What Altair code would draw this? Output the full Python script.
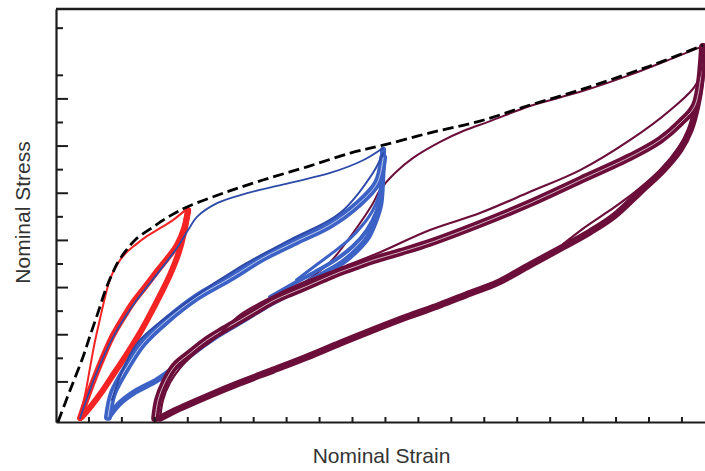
import altair as alt
import pandas as pd

# ---------------- data (strain / stress, arbitrary units) ----------------
# dashed envelope
env_x = [0.06, 0.43, 0.82, 1.03, 1.28, 1.52, 1.70, 1.88, 2.10, 2.40, 2.94, 3.46, 3.98, 5.07, 6.28, 7.62, 8.93, 9.93, 11.35, 12.87, 14.39, 15.91, 17.43, 18.43, 19.64]
env_y = [0.15, 0.83, 1.53, 1.97, 2.48, 2.98, 3.28, 3.54, 3.76, 4.01, 4.28, 4.52, 4.71, 5.00, 5.28, 5.56, 5.85, 6.02, 6.28, 6.53, 6.87, 7.19, 7.55, 7.80, 8.14]

# red specimen
red_load_x = [0.70, 0.88, 1.03, 1.18, 1.34, 1.49, 1.64, 1.85, 2.09, 2.40, 2.76, 3.16, 3.55, 4.01]
red_load_y = [0.23, 0.72, 1.29, 1.85, 2.35, 2.80, 3.18, 3.48, 3.71, 3.90, 4.09, 4.26, 4.43, 4.69]
red_unload_x = [4.01, 3.89, 3.73, 3.46, 3.16, 2.85, 2.55, 2.19, 1.79, 1.43, 1.09, 0.79]
red_unload_y = [4.64, 4.18, 3.75, 3.27, 2.84, 2.42, 2.04, 1.63, 1.21, 0.83, 0.51, 0.26]
red_reload_x = [0.73, 0.94, 1.24, 1.49, 1.73, 2.03, 2.34, 2.70, 3.07, 3.37, 3.67, 3.89, 4.01]
red_reload_y = [0.23, 0.66, 1.21, 1.63, 1.99, 2.35, 2.69, 3.01, 3.35, 3.61, 3.90, 4.26, 4.64]

# blue specimen
blue_load_x = [0.73, 1.24, 1.73, 2.34, 3.07, 3.67, 4.01, 4.28, 4.89, 5.80, 7.10, 8.32, 9.32, 9.93]
blue_load_y = [0.23, 1.21, 1.95, 2.63, 3.29, 3.84, 4.22, 4.50, 4.79, 5.00, 5.22, 5.43, 5.70, 5.96]
blue_reload_x = [1.58, 1.73, 2.16, 2.64, 3.37, 4.28, 5.28, 6.28, 7.32, 8.32, 9.14, 9.75, 9.93]
blue_reload_y = [0.26, 0.76, 1.32, 1.82, 2.31, 2.80, 3.20, 3.63, 3.99, 4.33, 4.75, 5.22, 5.75]
blue_reload2_x = [1.70, 2.09, 2.55, 4.07, 5.59, 7.10, 8.62, 9.62, 9.93]
blue_reload2_y = [0.62, 1.36, 1.89, 2.74, 3.44, 4.01, 4.58, 5.43, 5.85]
blue_unload_x = [9.93, 9.90, 9.84, 9.68, 9.47, 9.14, 8.71, 8.17, 7.62, 7.10, 6.34, 5.59, 4.83, 4.07, 3.67, 3.07, 2.40, 1.94, 1.64]
blue_unload_y = [5.92, 5.28, 4.75, 4.39, 4.07, 3.80, 3.54, 3.31, 3.10, 2.88, 2.59, 2.27, 1.95, 1.57, 1.34, 1.04, 0.79, 0.55, 0.30]
blue_unload2_x = [9.93, 9.87, 9.72, 9.44, 9.02, 8.47, 7.86, 7.26, 6.50]
blue_unload2_y = [5.87, 5.07, 4.60, 4.22, 3.88, 3.58, 3.33, 3.10, 2.80]
blue_unload3_x = [9.93, 9.90, 9.80, 9.60, 9.30, 8.90, 8.40, 7.90, 7.30]
blue_unload3_y = [5.87, 5.30, 4.95, 4.62, 4.32, 4.02, 3.74, 3.48, 3.16]

# maroon specimen
mar_load_x = [7.41, 8.32, 9.08, 9.59, 9.84, 10.29, 10.84, 11.66, 12.36, 13.18, 14.39, 15.91, 17.43, 18.43, 19.64]
mar_load_y = [3.05, 3.54, 4.22, 4.75, 5.07, 5.43, 5.75, 6.09, 6.32, 6.53, 6.85, 7.15, 7.51, 7.78, 8.12]
mar_reload_x = [3.01, 3.10, 3.31, 3.61, 4.07, 4.58, 5.07, 5.59, 6.10, 6.59, 7.10, 7.62, 8.11, 8.62, 9.14, 9.62, 10.44, 11.35, 12.87, 14.39, 15.91, 17.43, 18.34, 18.94, 19.40, 19.64]
mar_reload_y = [0.23, 0.62, 1.00, 1.34, 1.61, 1.89, 2.10, 2.31, 2.52, 2.72, 2.88, 3.03, 3.18, 3.33, 3.46, 3.58, 3.75, 3.95, 4.35, 4.79, 5.28, 5.77, 6.13, 6.49, 6.87, 8.10]
mar_reload2_x = [3.16, 3.25, 3.46, 3.76, 4.22, 4.83, 5.59, 6.50, 7.41, 8.62, 9.84, 11.35, 12.87, 14.39, 15.91, 17.43, 18.64, 19.46, 19.64]
mar_reload2_y = [0.23, 0.62, 0.98, 1.29, 1.61, 1.93, 2.42, 2.78, 3.08, 3.41, 3.75, 4.22, 4.58, 5.03, 5.49, 6.13, 6.76, 7.34, 8.10]
mar_unload_x = [19.64, 19.58, 19.46, 19.25, 18.94, 18.43, 17.73, 16.91, 16.21, 15.39, 14.39, 13.39, 12.57, 11.66, 10.66, 9.62, 8.62, 7.62, 6.59, 5.59, 4.68, 3.86, 3.46, 3.16]
mar_unload_y = [8.10, 7.40, 6.87, 6.34, 5.92, 5.49, 5.03, 4.50, 4.18, 3.86, 3.48, 3.10, 2.88, 2.63, 2.38, 2.10, 1.82, 1.53, 1.25, 0.98, 0.72, 0.47, 0.34, 0.23]
mar_unload2_x = [19.64, 19.46, 19.19, 18.70, 18.03, 17.27, 16.51, 15.76, 15.15]
mar_unload2_y = [8.10, 6.98, 6.34, 5.70, 5.17, 4.75, 4.33, 4.01, 3.80]
mar_unload3_x = [19.64, 19.52, 19.31, 18.94, 18.34, 17.58, 16.82, 16.06, 15.39]
mar_unload3_y = [8.10, 7.08, 6.51, 6.02, 5.49, 5.03, 4.64, 4.28, 3.92]

# axis ticks (unlabelled)
x_ticks = list(range(1, 20))
y_major_ticks = [1, 2, 3, 4, 5, 6, 7]
y_minor_ticks = [1.5, 2.5, 3.5, 4.5, 5.5, 6.5, 7.5, 8.5]

# ---------------- styling ----------------
W, H = 649, 413
X_DOMAIN = [0, 19.70]
Y_DOMAIN = [0.15, 8.906]
RED = "#F42424"
BLUE = "#3C62C6"
BLUE_DARK = "#2E4AA8"
MAROON = "#6B0F3A"
AXIS_COLOR = "#1c1c1c"
FONT = "Liberation Sans"

xscale = alt.Scale(domain=X_DOMAIN, nice=False, zero=False)
yscale = alt.Scale(domain=Y_DOMAIN, nice=False, zero=False)

x_axis = alt.Axis(title="Nominal Strain", ticks=False, labels=False, grid=False,
                  domain=True, domainColor=AXIS_COLOR, domainWidth=2.2,
                  titleFont=FONT, titleFontSize=21, titleFontWeight="normal",
                  titleColor="#333333", titleX=325, titleY=40,
                  titleAlign="center", titleBaseline="alphabetic")
y_axis = alt.Axis(title="Nominal Stress", ticks=False, labels=False, grid=False,
                  domain=True, domainColor=AXIS_COLOR, domainWidth=2.2,
                  titleFont=FONT, titleFontSize=21, titleFontWeight="normal",
                  titleColor="#333333", titleAngle=270, titleX=-27, titleY=203,
                  titleAlign="center", titleBaseline="alphabetic")


def curve(xs, ys, color, width, dash=None, opacity=1.0):
    df = pd.DataFrame({"x": xs, "y": ys, "i": list(range(len(xs)))})
    props = dict(color=color, strokeWidth=width, strokeJoin="round",
                 strokeCap="round", clip=True, interpolate="catmull-rom",
                 opacity=opacity)
    if dash is not None:
        props["strokeDash"] = dash
        props["strokeCap"] = "butt"
    return alt.Chart(df).mark_line(**props).encode(
        x=alt.X("x:Q", scale=xscale, axis=x_axis),
        y=alt.Y("y:Q", scale=yscale, axis=y_axis),
        order=alt.Order("i:Q"),
    )


layers = [
    # red
    curve(red_unload_x, red_unload_y, RED, 6),
    curve(red_reload_x, red_reload_y, RED, 6),
    curve(red_load_x, red_load_y, RED, 2),
    # maroon first loading (runs under the blue loops)
    curve(mar_load_x, mar_load_y, MAROON, 2),
    # blue
    curve(blue_unload3_x, blue_unload3_y, BLUE, 3),
    curve(blue_unload2_x, blue_unload2_y, BLUE, 4),
    curve(blue_unload_x, blue_unload_y, BLUE, 6),
    curve(blue_reload_x, blue_reload_y, BLUE, 8),
    curve(blue_reload_x, blue_reload_y, "#dfe6f7", 1, opacity=0.8),
    curve(blue_reload2_x, blue_reload2_y, BLUE_DARK, 2),
    curve(blue_load_x, blue_load_y, BLUE_DARK, 1.8),
    # maroon
    curve(mar_unload_x, mar_unload_y, MAROON, 7),
    curve(mar_unload2_x, mar_unload2_y, MAROON, 2.2),
    curve(mar_unload3_x, mar_unload3_y, MAROON, 2.2),
    curve(mar_reload_x, mar_reload_y, MAROON, 8),
    curve(mar_reload_x, mar_reload_y, "#f1dde5", 1, opacity=0.8),
    curve(mar_reload2_x, mar_reload2_y, MAROON, 2.2),
    # envelope
    curve(env_x, env_y, "#000000", 2.8, dash=[11, 5]),
]

# inward ticks
yt_major = alt.Chart(pd.DataFrame({"v": y_major_ticks})).mark_rule(
    color=AXIS_COLOR, strokeWidth=2).encode(
    y=alt.Y("v:Q", scale=yscale, axis=y_axis), x=alt.value(0), x2=alt.value(12))
yt_minor = alt.Chart(pd.DataFrame({"v": y_minor_ticks})).mark_rule(
    color=AXIS_COLOR, strokeWidth=2).encode(
    y=alt.Y("v:Q", scale=yscale, axis=y_axis), x=alt.value(0), x2=alt.value(7))
xt = alt.Chart(pd.DataFrame({"v": x_ticks})).mark_rule(
    color=AXIS_COLOR, strokeWidth=2).encode(
    x=alt.X("v:Q", scale=xscale, axis=x_axis), y=alt.value(H), y2=alt.value(H - 5))
top_border = alt.Chart(pd.DataFrame({"v": [0]})).mark_rule(
    color=AXIS_COLOR, strokeWidth=2.5).encode(
    x=alt.value(0), x2=alt.value(W), y=alt.value(0))

chart = alt.layer(*layers, yt_major, yt_minor, xt, top_border).properties(
    width=W, height=H,
    autosize=alt.AutoSizeParams(type="none"),
    padding={"left": 56, "top": 9, "right": 0, "bottom": 49},
    background="white",
).configure_view(stroke=None)

chart.save("out.html", embed_options={"renderer": "svg", "actions": False})
